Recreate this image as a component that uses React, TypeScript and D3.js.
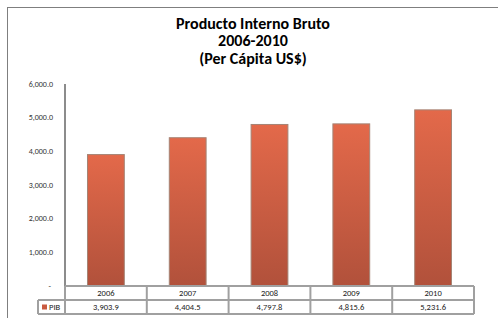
import { useEffect, useRef } from 'react'
import * as d3 from 'd3'

const years = ['2006', '2007', '2008', '2009', '2010']
const pib = [3903.9, 4404.5, 4797.8, 4815.6, 5231.6]
const yTicks = [0, 1000, 2000, 3000, 4000, 5000, 6000]
const titleLines = ['Producto Interno Bruto', '2006-2010', '(Per Cápita US$)']
const seriesName = 'PIB'

export default function App() {
  const svgRef = useRef<SVGSVGElement>(null)

  useEffect(() => {
    if (!svgRef.current) return
    const svg = d3.select(svgRef.current)
    svg.selectAll('*').remove()

    const font = 'Carlito, "Open Sans", "Liberation Sans", sans-serif'
    const left = 65, right = 474, top = 84, bottom = 286
    const rowH = 14

    // gradient for bars
    const defs = svg.append('defs')
    const grad = defs.append('linearGradient')
      .attr('id', 'barGrad').attr('x1', 0).attr('x2', 0).attr('y1', 0).attr('y2', 1)
    grad.append('stop').attr('offset', '0%').attr('stop-color', '#e3694a')
    grad.append('stop').attr('offset', '100%').attr('stop-color', '#b1513b')

    // outer frame
    svg.append('rect')
      .attr('x', 7.5).attr('y', 7.5).attr('width', 500).attr('height', 320)
      .attr('fill', '#fff').attr('stroke', '#7f7f7f').attr('stroke-width', 1)

    // title
    svg.append('g').selectAll('text')
      .data(titleLines)
      .join('text')
      .attr('x', 253)
      .attr('y', (_, i) => 28.5 + i * 17.5)
      .attr('text-anchor', 'middle')
      .attr('font-family', font)
      .attr('font-size', '16px')
      .attr('font-weight', 'bold')
      .attr('fill', '#000')
      .text(d => d)

    const x = d3.scaleBand().domain(years).range([left, right]).paddingInner(0).paddingOuter(0)
    const y = d3.scaleLinear().domain([0, 6000]).range([bottom, top])

    // y tick labels
    svg.append('g').selectAll('text')
      .data(yTicks)
      .join('text')
      .attr('x', d => d === 0 ? 51 : 53)
      .attr('y', d => y(d))
      .attr('dy', '0.35em')
      .attr('text-anchor', 'end')
      .attr('font-family', font)
      .attr('font-size', '8px')
      .attr('fill', '#333')
      .text(d => d === 0 ? '-' : d3.format(',.1f')(d))

    // bars
    const bw = x.bandwidth() * 0.45
    svg.append('g').selectAll('rect')
      .data(pib)
      .join('rect')
      .attr('x', (_, i) => (x(years[i]) || 0) + x.bandwidth() / 2 - bw / 2)
      .attr('y', d => y(d))
      .attr('width', bw)
      .attr('height', d => bottom - y(d))
      .attr('fill', 'url(#barGrad)')
      .attr('stroke', '#a58475')
      .attr('stroke-width', 1)

    // y axis line
    svg.append('line')
      .attr('x1', left).attr('x2', left).attr('y1', top).attr('y2', bottom)
      .attr('stroke', '#8c8c8c').attr('stroke-width', 2)

    // data table
    const tbl = svg.append('g')
    const lineColor = '#a0a0a0'
    const legendLeft = 38
    // horizontal lines
    tbl.append('line').attr('x1', left).attr('x2', right).attr('y1', bottom).attr('y2', bottom)
      .attr('stroke', lineColor).attr('stroke-width', 2)
    tbl.append('line').attr('x1', legendLeft).attr('x2', right).attr('y1', bottom + rowH).attr('y2', bottom + rowH)
      .attr('stroke', lineColor).attr('stroke-width', 2)
    tbl.append('line').attr('x1', legendLeft).attr('x2', right).attr('y1', bottom + rowH * 2).attr('y2', bottom + rowH * 2)
      .attr('stroke', lineColor).attr('stroke-width', 2)
    // vertical lines
    const vx = [left, ...years.map(d => (x(d) || 0) + x.bandwidth())]
    tbl.selectAll('.vline')
      .data(vx)
      .join('line')
      .attr('class', 'vline')
      .attr('x1', d => d).attr('x2', d => d)
      .attr('y1', bottom).attr('y2', bottom + rowH * 2)
      .attr('stroke', lineColor).attr('stroke-width', 2)
    tbl.append('line').attr('x1', legendLeft).attr('x2', legendLeft)
      .attr('y1', bottom + rowH).attr('y2', bottom + rowH * 2)
      .attr('stroke', lineColor).attr('stroke-width', 2)

    tbl.selectAll('.year')
      .data(years)
      .join('text')
      .attr('class', 'year')
      .attr('x', d => (x(d) || 0) + x.bandwidth() / 2)
      .attr('y', bottom + rowH / 2)
      .attr('dy', '0.35em')
      .attr('text-anchor', 'middle')
      .attr('font-family', font)
      .attr('font-size', '8.5px')
      .attr('fill', '#222')
      .text(d => d)

    tbl.selectAll('.val')
      .data(pib)
      .join('text')
      .attr('class', 'val')
      .attr('x', (_, i) => (x(years[i]) || 0) + x.bandwidth() / 2)
      .attr('y', bottom + rowH * 1.5)
      .attr('dy', '0.35em')
      .attr('text-anchor', 'middle')
      .attr('font-family', font)
      .attr('font-size', '8.5px')
      .attr('fill', '#222')
      .text(d => d3.format(',.1f')(d))

    // legend key
    tbl.append('rect')
      .attr('x', 42).attr('y', bottom + rowH * 1.5 - 2.5)
      .attr('width', 5).attr('height', 5)
      .attr('fill', '#c95a40')
    tbl.append('text')
      .attr('x', 49).attr('y', bottom + rowH * 1.5)
      .attr('dy', '0.35em')
      .attr('font-family', font)
      .attr('font-size', '8.5px')
      .attr('fill', '#222')
      .text(seriesName)
  }, [])

  return (
    <svg ref={svgRef} width={498} height={318}
      style={{ position: 'absolute', left: 0, top: 0, background: '#fff' }} />
  )
}
